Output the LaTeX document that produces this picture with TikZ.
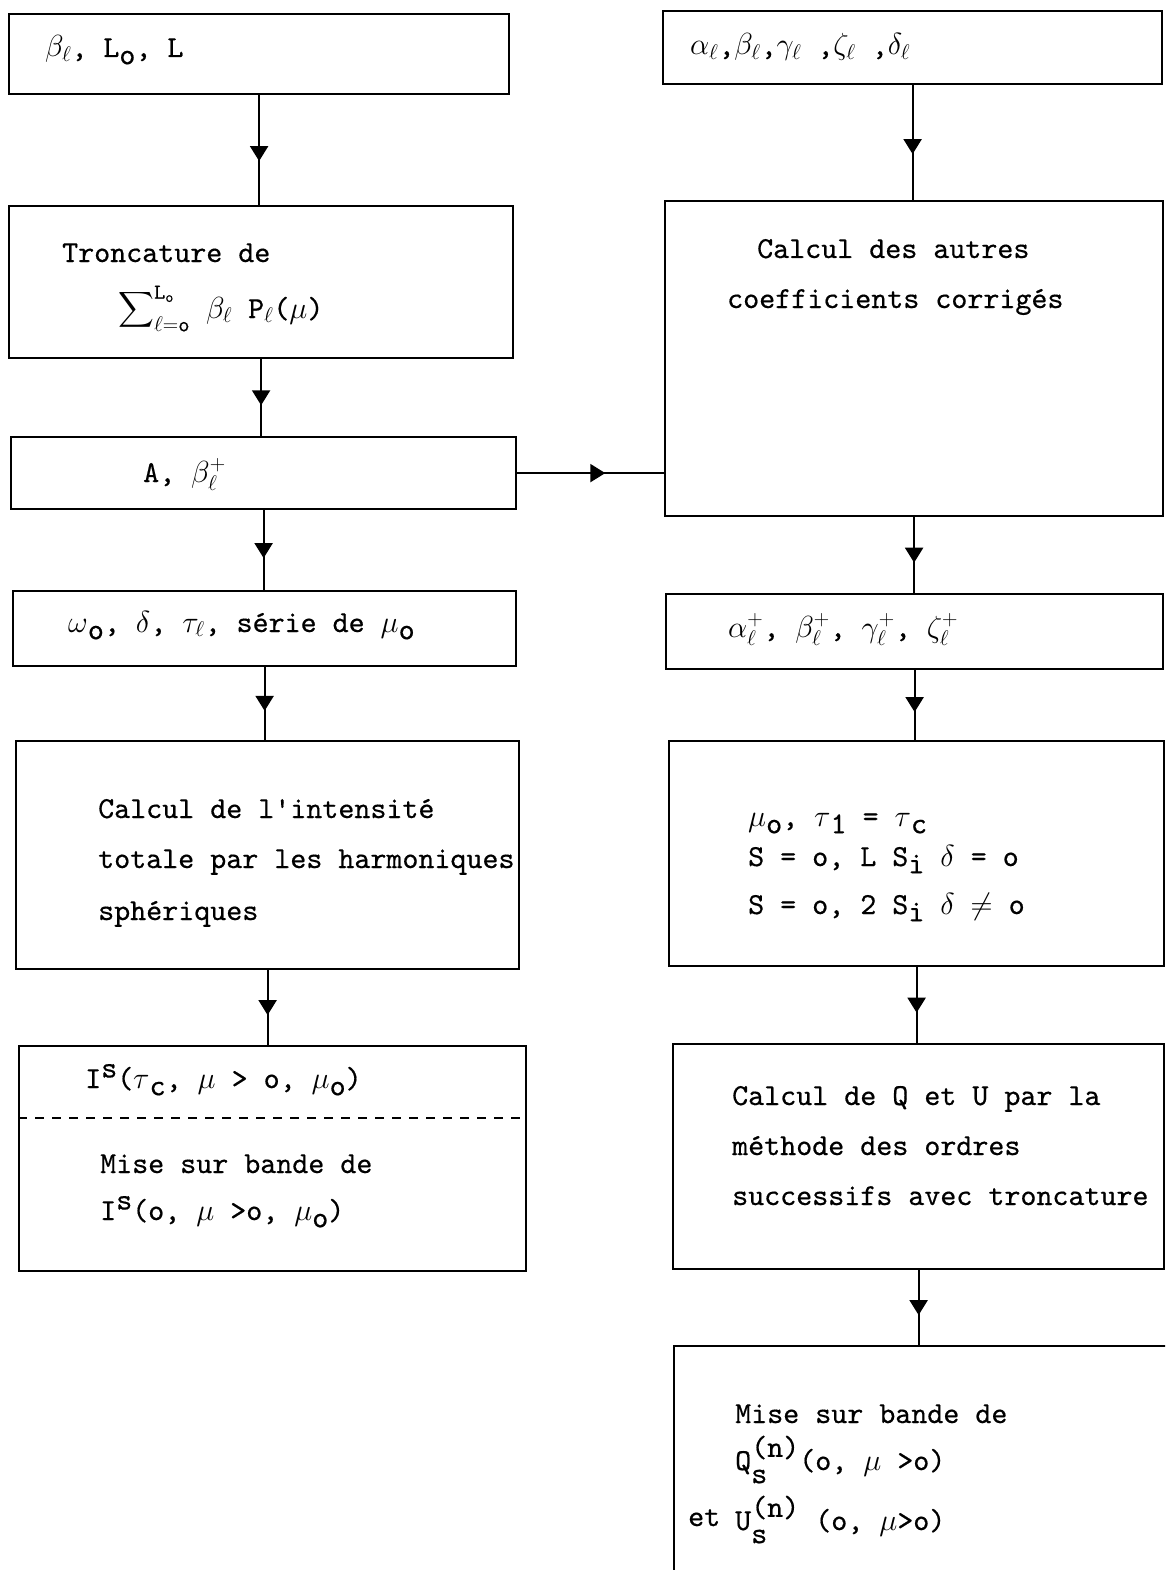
\RequirePackage{fix-cm}
\documentclass[tikz,border=0pt]{standalone}
\usepackage{exscale}
\usepackage{fontspec}
\setmonofont{lmmono10-regular.otf}[FakeBold=0.5]
\usetikzlibrary{arrows.meta,decorations.markings}
\newcommand\typew{\fontsize{30.5}{50}\selectfont\ttfamily}
\newcommand\lowr[1]{\raisebox{-0.55ex}{#1}}
\newcommand\highr[1]{\raisebox{0.8ex}{#1}}
\tikzset{
  box/.style={draw,line width=2.2pt,inner sep=0pt,anchor=north west},
  txt/.style={anchor=base west,inner sep=0pt,font=\typew},
  flow/.style={line width=2.2pt,postaction={decorate},
    decoration={markings,mark=at position #1 with {\arrow{Triangle[length=15pt,width=18pt]}}}},
  flow/.default=0.6,
  cut/.style={line width=1.3pt,dash pattern=on 9pt off 8pt}
}
\begin{document}
\begin{tikzpicture}[x=1pt,y=-1pt]
  \useasboundingbox (0,0) rectangle (1165,1570);
  \clip (0,0) rectangle (1165,1570);
  % left column
  \node[box,minimum width=500pt,minimum height=80pt] (b1) at (8,13) {};
  \node[box,minimum width=504pt,minimum height=152pt] (b2) at (8,205) {};
  \node[box,minimum width=505pt,minimum height=72pt] (b3) at (10,436) {};
  \node[box,minimum width=503pt,minimum height=75pt] (b4) at (12,590) {};
  \node[box,minimum width=503pt,minimum height=228pt] (b5) at (15,740) {};
  \node[box,minimum width=507pt,minimum height=225pt] (b6) at (18,1045) {};
  % right column
  \node[box,minimum width=499pt,minimum height=73pt] (r1) at (662,10) {};
  \node[box,minimum width=498pt,minimum height=315pt] (r2) at (664,200) {};
  \node[box,minimum width=497pt,minimum height=75pt] (r3) at (665,593) {};
  \node[box,minimum width=495pt,minimum height=225pt] (r4) at (668,740) {};
  \node[box,minimum width=491pt,minimum height=225pt] (r5) at (672,1043) {};
  \node[box,minimum width=540pt,minimum height=260pt] (r6) at (673,1345) {};

  \draw[cut] (b6.west |- 0,1118) -- (b6.east |- 0,1118);

  % texts
  \node[txt] (t1) at (45,57) {$\beta_\ell$, L\lowr{o}, L};
  \node[txt] (t2a) at (62,262) {Troncature de};
  \node[txt] (t2b) at (118,318) {$\displaystyle\sum\nolimits_{\ell=\mathtt{o}}^{\mathtt{L}_{\mathtt{o}}}$ $\beta_\ell$ P$_\ell$($\mu$)};
  \node[txt] (t3) at (143,482) {A, $\beta_\ell^+$};
  \node[txt] (t4) at (68,632) {$\omega$\lowr{o}, $\delta$, $\tau_\ell$, série de $\mu$\lowr{o}};
  \node[txt] (t5a) at (98,818) {Calcul de l'intensité};
  \node[txt] (t5b) at (98,868) {totale par les harmoniques};
  \node[txt] (t5c) at (98,920) {sphériques};
  \node[txt] (t6a) at (85,1088) {I\highr{s}($\tau$\lowr{c}, $\mu$ > o, $\mu$\lowr{o})};
  \node[txt] (t6b) at (100,1173) {Mise sur bande de};
  \node[txt] (t6c) at (100,1220) {I\highr{s}(o, $\mu$ >o, $\mu$\lowr{o})};

  \node[txt] (s1) at (690,55) {$\alpha_\ell$,$\beta_\ell$,$\gamma_\ell$ ,$\zeta_\ell$ ,$\delta_\ell$};
  \node[txt] (s2a) at (757,258) {Calcul des autres};
  \node[txt] (s2b) at (727,308) {coefficients corrigés};
  \node[txt] (s3) at (728,637) {$\alpha_\ell^+$, $\beta_\ell^+$, $\gamma_\ell^+$, $\zeta_\ell^+$};
  \node[txt] (s4a) at (748,826) {$\mu$\lowr{o}, $\tau$\lowr{1} = $\tau$\lowr{c}};
  \node[txt] (s4b) at (748,866) {S = o, L S\lowr{i} $\delta$ = o};
  \node[txt] (s4c) at (748,914) {S = o, 2 S\lowr{i} $\delta$ $\neq$ o};
  \node[txt] (s5a) at (732,1105) {Calcul de Q et U par la};
  \node[txt] (s5b) at (732,1155) {méthode des ordres};
  \node[txt] (s5c) at (732,1205) {successifs avec troncature};
  \node[txt] (s6a) at (735,1423) {Mise sur bande de};
  \node[txt] (s6b) at (735,1470) {Q\rlap{\raisebox{-1.0ex}{s}}\raisebox{1.0ex}{(n)}(o, $\mu$ >o)};
  \node[txt] (s6e) at (688,1526) {et};
  \node[txt] (s6c) at (735,1530) {U\rlap{\raisebox{-1.0ex}{s}}\raisebox{1.0ex}{(n)} (o, $\mu$>o)};

  % connectors
  \draw[flow] (b1) -- (b1 |- b2.north);
  \draw[flow] (b2) -- (b2 |- b3.north);
  \draw[flow] (b3) -- (b3 |- b4.north);
  \draw[flow] (b4) -- (b4 |- b5.north);
  \draw[flow] (b5) -- (b5 |- b6.north);
  \draw[flow] (b3) -- (b3 -| r2.west);
  \draw[flow] (r1) -- (r1 |- r2.north);
  \draw[flow] (r2) -- (r2 |- r3.north);
  \draw[flow] (r3) -- (r3 |- r4.north);
  \draw[flow] (r4) -- (r4 |- r5.north);
  \draw[flow] (r5) -- (r5 |- r6.north);
\end{tikzpicture}
\end{document}
